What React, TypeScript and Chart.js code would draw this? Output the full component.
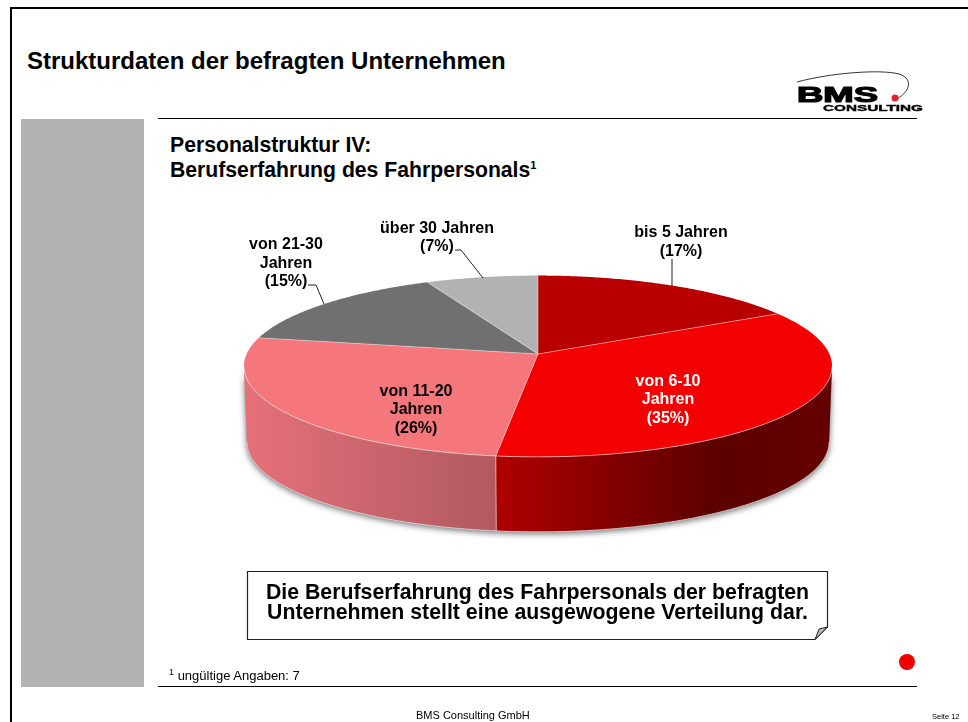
import React, { useEffect, useRef } from "react";
import { Chart, registerables } from "chart.js";

Chart.register(...registerables);

const categories = ["bis 5 Jahren", "von 6-10 Jahren", "von 11-20 Jahren", "von 21-30 Jahren", "über 30 Jahren"];
const shares = [17, 35, 26, 15, 7];
const sliceColors = ["#b80000", "#f50000", "#f5777c", "#707070", "#b2b2b2"];

const labelLines = [
  ["bis 5 Jahren", "(17%)"],
  ["von 6-10", "Jahren", "(35%)"],
  ["von 11-20", "Jahren", "(26%)"],
  ["von 21-30", "Jahren", "(15%)"],
  ["über 30 Jahren", "(7%)"],
];
const labelColors = ["#000", "#fff", "#000", "#000", "#000"];
const labelAnchors = [
  [681, 233],
  [668, 381.5],
  [416, 391.5],
  [286, 245],
  [437, 228.5],
];
const leaders = [
  [[672, 259], [672, 286]],
  [],
  [],
  [[308, 285], [316, 285], [324, 304]],
  [[455, 250], [461, 250], [483, 278]],
];

const K = -0.135; // perspective foreshortening of the lying pie
const SHAPE_X = 0.991;
const SHAPE_Y = 0.3027;
const DEPTH = 76;
const BASE_SCALE = 0.99;

function project(arc: any, clockAngle: number, dy = 0, scale = 1) {
  const u = Math.sin(clockAngle);
  const v = -Math.cos(clockAngle);
  const w = 1 + K * v;
  const r = arc.outerRadius * scale;
  return [arc.x + (r * SHAPE_X * u) / w, arc.y + dy + (r * SHAPE_Y * v) / w];
}

function tracePoints(ctx: any, arc: any, from: number, to: number, dy: number, scale: number, first: boolean) {
  const n = Math.max(2, Math.ceil(Math.abs(to - from) / 0.01));
  for (let i = 0; i <= n; i++) {
    const [x, y] = project(arc, from + ((to - from) * i) / n, dy, scale);
    if (i === 0 && first) ctx.moveTo(x, y);
    else ctx.lineTo(x, y);
  }
}

const pie3d = {
  id: "pie3d",
  beforeDatasetDraw(chart: any) {
    const ctx = chart.ctx;
    const arcs = chart.getDatasetMeta(0).data;
    const a0 = arcs[0];
    const clock = (a: number) => a + Math.PI / 2;
    const rightExt = Math.acos(K); // angle of the widest points of the ellipse
    const leftExt = 2 * Math.PI - rightExt;
    const split = clock(arcs[1].endAngle);

    // soft shadow of the base
    ctx.save();
    ctx.shadowColor = "rgba(60,60,60,0.75)";
    ctx.shadowBlur = 6;
    ctx.shadowOffsetY = 2;
    ctx.fillStyle = "#999";
    ctx.beginPath();
    tracePoints(ctx, a0, rightExt, leftExt, DEPTH, BASE_SCALE, true);
    tracePoints(ctx, a0, leftExt, rightExt, 0, 1, false);
    ctx.closePath();
    ctx.fill();
    ctx.restore();

    // side walls
    const sides: [number, number, [number, string][]][] = [
      [rightExt, split, [[0, "#640000"], [0.35, "#5c0000"], [1, "#b00000"]]],
      [split, leftExt, [[0, "#b05a60"], [1, "#e6707a"]]],
    ];
    for (const [from, to, stops] of sides) {
      const xa = project(a0, from)[0];
      const xb = project(a0, to)[0];
      const g = ctx.createLinearGradient(xa, 0, xb, 0);
      stops.forEach(([p, c]) => g.addColorStop(p, c));
      ctx.fillStyle = g;
      ctx.beginPath();
      tracePoints(ctx, a0, from, to, 0, 1, true);
      tracePoints(ctx, a0, to, from, DEPTH, BASE_SCALE, false);
      ctx.closePath();
      ctx.fill();
    }
    // wall seam
    const sa = project(a0, split);
    const sb = project(a0, split, DEPTH, BASE_SCALE);
    ctx.strokeStyle = "rgba(255,255,255,0.55)";
    ctx.lineWidth = 1;
    ctx.beginPath();
    ctx.moveTo(sa[0], sa[1]);
    ctx.lineTo(sb[0], sb[1]);
    ctx.stroke();
    // light lower rim
    ctx.strokeStyle = "rgba(225,225,225,0.8)";
    ctx.beginPath();
    tracePoints(ctx, a0, rightExt, leftExt, DEPTH, BASE_SCALE, true);
    ctx.stroke();

    // top faces
    arcs.forEach((arc: any, i: number) => {
      const from = clock(arc.startAngle);
      const to = clock(arc.endAngle);
      ctx.fillStyle = sliceColors[i];
      ctx.beginPath();
      ctx.moveTo(arc.x, arc.y);
      tracePoints(ctx, arc, from, to, 0, 1, false);
      ctx.closePath();
      ctx.fill();
    });
    // hairlines between faces and along the rim
    ctx.strokeStyle = "rgba(255,255,255,0.5)";
    ctx.lineWidth = 0.8;
    arcs.forEach((arc: any) => {
      const from = clock(arc.startAngle);
      const p = project(arc, from);
      ctx.beginPath();
      ctx.moveTo(arc.x, arc.y);
      ctx.lineTo(p[0], p[1]);
      ctx.stroke();
    });
    ctx.strokeStyle = "rgba(255,255,255,0.7)";
    ctx.beginPath();
    tracePoints(ctx, a0, rightExt, leftExt, 0, 1, true);
    ctx.stroke();
    return false;
  },
  afterDatasetsDraw(chart: any) {
    const ctx = chart.ctx;
    ctx.save();
    ctx.font = 'bold 16px "Liberation Sans", Arial, sans-serif';
    ctx.textAlign = "center";
    ctx.textBaseline = "middle";
    labelLines.forEach((lines, i) => {
      ctx.fillStyle = labelColors[i];
      lines.forEach((t, j) => ctx.fillText(t, labelAnchors[i][0], labelAnchors[i][1] + j * 18.5));
      const l = leaders[i];
      if (l.length) {
        ctx.strokeStyle = "#222";
        ctx.lineWidth = 1;
        ctx.beginPath();
        l.forEach((p, k) => (k ? ctx.lineTo(p[0], p[1]) : ctx.moveTo(p[0], p[1])));
        ctx.stroke();
      }
    });
    ctx.restore();
  },
};

const abs = (s: React.CSSProperties): React.CSSProperties => ({ position: "absolute", whiteSpace: "nowrap", ...s });

export default function App() {
  const ref = useRef<HTMLCanvasElement>(null);
  useEffect(() => {
    document.body.style.margin = "0";
    const chart = new Chart(ref.current!, {
      type: "pie",
      data: { labels: categories, datasets: [{ data: shares, backgroundColor: sliceColors, borderWidth: 0 }] },
      options: {
        responsive: false,
        animation: false,
        layout: { padding: { left: 244, right: 136, top: 60, bottom: 74 } },
        plugins: { legend: { display: false }, tooltip: { enabled: false } },
      },
      plugins: [pie3d],
    } as any);
    return () => chart.destroy();
  }, []);

  return (
    <div style={{ position: "absolute", left: 0, top: 0, width: 968, height: 722, overflow: "hidden", background: "#fff", fontFamily: '"Liberation Sans", Arial, sans-serif', color: "#000" }}>
      <div style={abs({ left: 10, top: 7, width: 958, height: 2, background: "#000" })} />
      <div style={abs({ left: 10, top: 7, width: 2, height: 715, background: "#000" })} />
      <div style={abs({ left: 21, top: 119, width: 123, height: 568, background: "#b2b2b2" })} />
      <div style={abs({ left: 158, top: 118, width: 759, height: 1, background: "#000" })} />
      <div style={abs({ left: 158, top: 686, width: 759, height: 1, background: "#000" })} />
      <div style={abs({ left: 27, top: 47, fontSize: 24, fontWeight: 700, lineHeight: "28px" })}>Strukturdaten der befragten Unternehmen</div>
      <div style={abs({ left: 170, top: 132, fontSize: 21.2, fontWeight: 700, lineHeight: "25px" })}>
        Personalstruktur IV:<br />
        Berufserfahrung des Fahrpersonals<sup style={{ fontSize: 11, lineHeight: 0, letterSpacing: -1 }}>1</sup>
      </div>
      <canvas ref={ref} width={968} height={722} style={{ position: "absolute", left: 0, top: 0, width: 968, height: 722 }} />
      <svg width={968} height={722} style={{ position: "absolute", left: 0, top: 0 }}>
        <path d="M247.5 571.5H827.5V627L815 639.5H247.5Z" fill="#fff" stroke="#222" strokeWidth={1.2} />
        <path d="M827.5 627L815 639.5L819 629Z" fill="#bbb" stroke="#222" strokeWidth={1} />
        <path d="M797 82C830 73 880 69 899 74C912 78 912 90 897 99" fill="none" stroke="#333" strokeWidth={1} />
        <circle cx={895} cy={98} r={3.5} fill="#e8202a" />
        <text x={797} y={102} fontSize={22} fontWeight={900} textLength={81} lengthAdjust="spacingAndGlyphs" stroke="#000" strokeWidth={1.2} fontFamily='"Liberation Sans", Arial, sans-serif'>BMS</text>
        <text x={823} y={110.5} fontSize={9.5} fontWeight={900} textLength={100} lengthAdjust="spacingAndGlyphs" stroke="#000" strokeWidth={0.4} fontFamily='"Liberation Sans", Arial, sans-serif'>CONSULTING</text>
        <circle cx={907} cy={662} r={8} fill="#f00000" />
      </svg>
      <div style={abs({ left: 247, top: 582, width: 581, textAlign: "center", fontSize: 21.3, fontWeight: 700, lineHeight: "20px" })}>
        Die Berufserfahrung des Fahrpersonals der befragten<br />
        Unternehmen stellt eine ausgewogene Verteilung dar.
      </div>
      <div style={abs({ left: 169, top: 668, fontSize: 13, lineHeight: "16px" })}>
        <sup style={{ fontSize: 9, lineHeight: 0 }}>1</sup> ungültige Angaben: 7
      </div>
      <div style={abs({ left: 416, top: 709, fontSize: 11, lineHeight: "13px" })}>BMS Consulting GmbH</div>
      <div style={abs({ left: 932, top: 712, fontSize: 7.5, lineHeight: "10px" })}>Seite 12</div>
    </div>
  );
}
